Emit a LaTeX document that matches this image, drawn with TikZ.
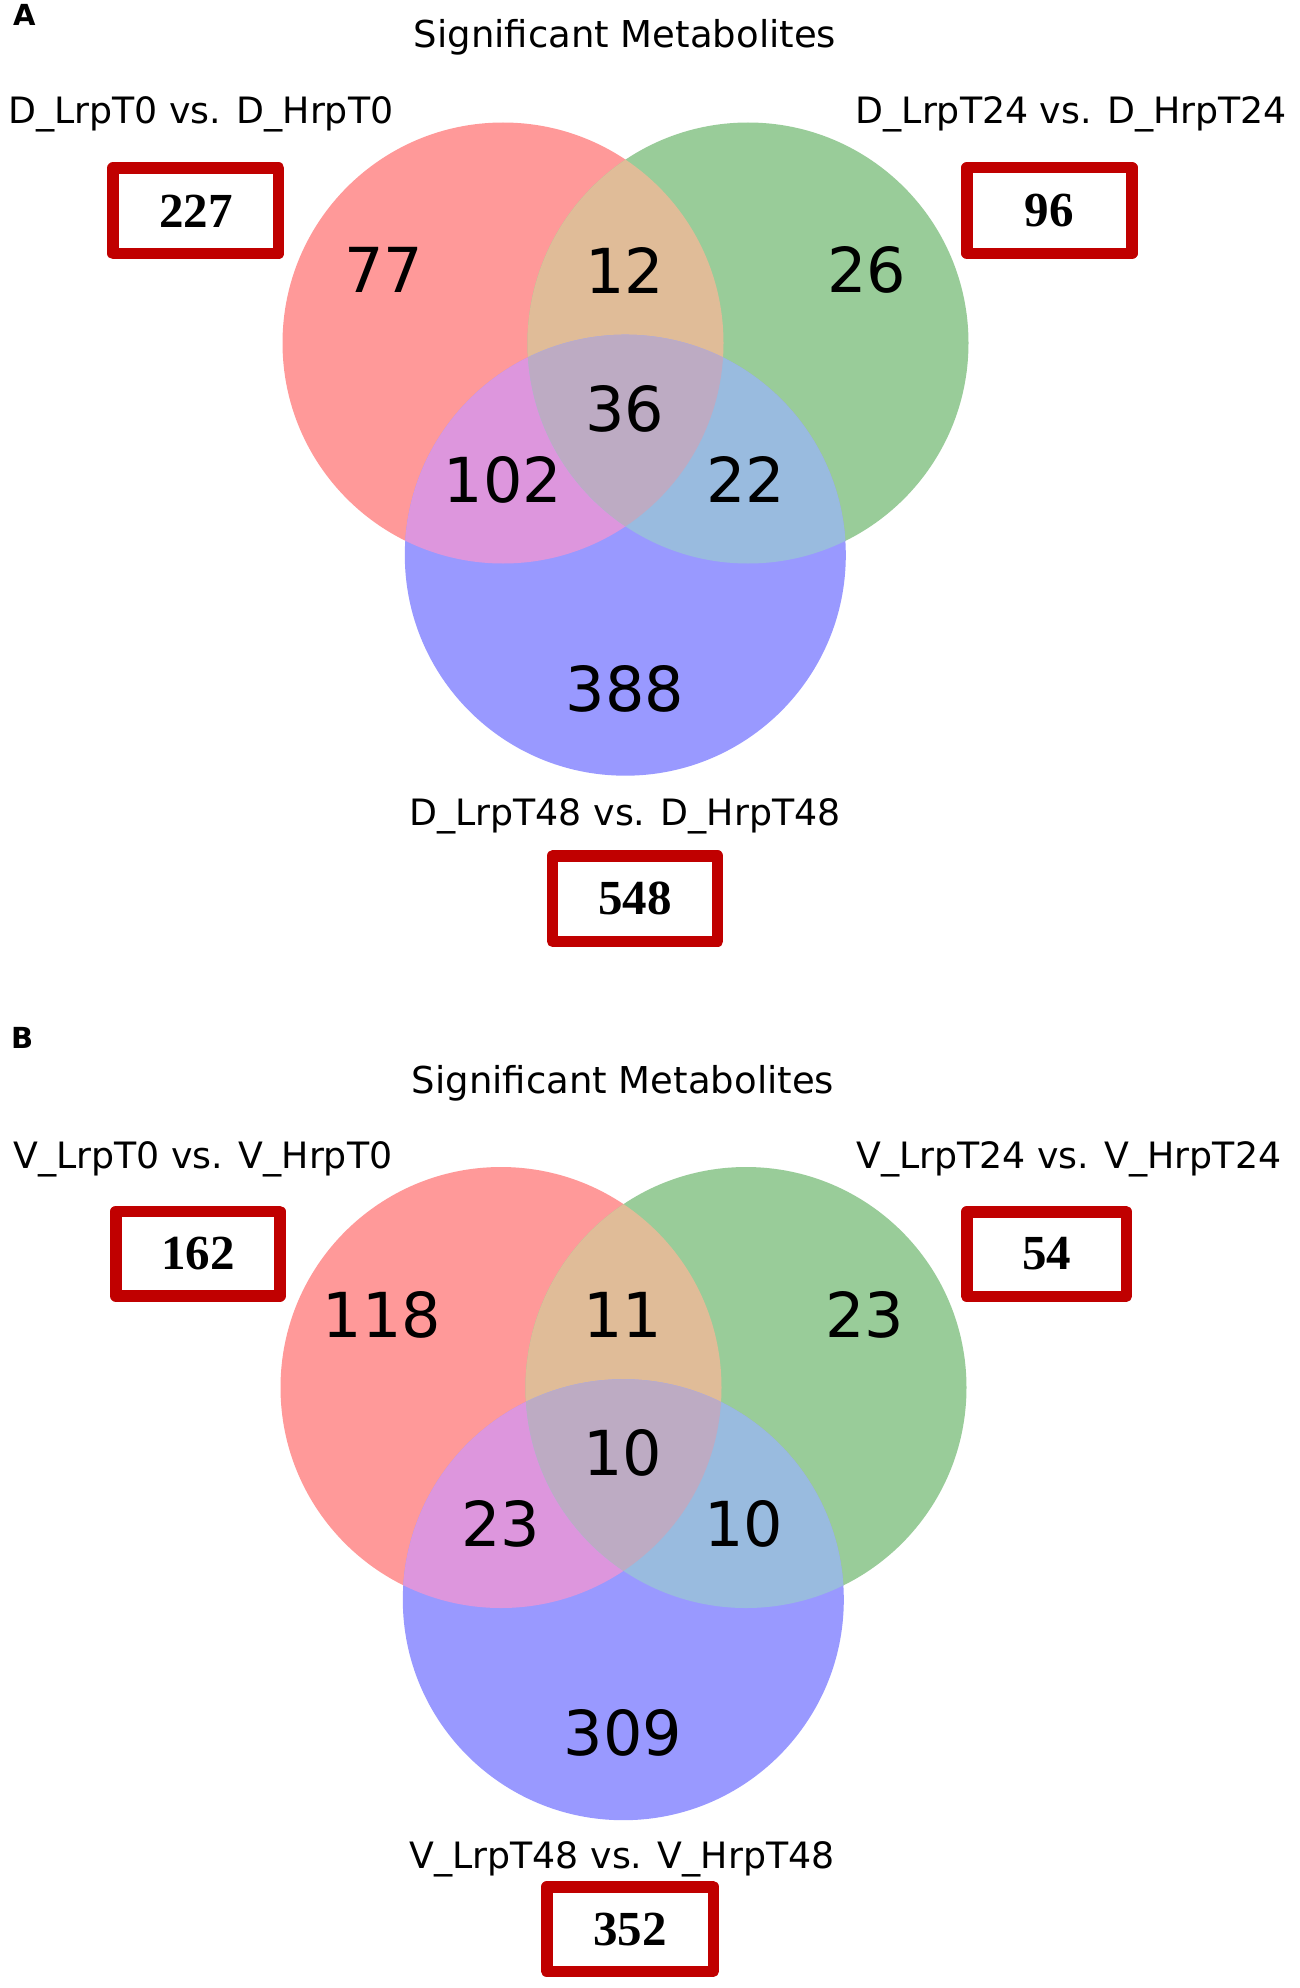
\documentclass[tikz,border=0pt]{standalone}
\usepackage{fontspec}
\setmainfont{DejaVu Sans}
\newfontfamily\boxfont{Liberation Serif}
\definecolor{cR}{HTML}{FF9999}
\definecolor{cG}{HTML}{99CC99}
\definecolor{cB}{HTML}{9999FF}
\definecolor{cRG}{HTML}{E0BC98}
\definecolor{cRB}{HTML}{DD96DD}
\definecolor{cGB}{HTML}{99BBDF}
\definecolor{cRGB}{HTML}{BDABC3}
\definecolor{boxred}{HTML}{C00000}
\tikzset{
  lbl/.style={font=\fontsize{36.3}{44}\selectfont, inner sep=0pt},
  ttl/.style={font=\fontsize{37}{44}\selectfont, inner sep=0pt},
  num/.style={font=\fontsize{62}{74}\selectfont, inner sep=0pt},
  cnt/.style={draw=boxred, line width=11.5pt, line join=round, fill=white, inner sep=0pt,
    font=\boxfont\bfseries\fontsize{49}{58}\selectfont},
  panel/.style={font=\bfseries\fontsize{29}{34}\selectfont, inner sep=0pt}
}
\newcommand{\vennthree}[3]{%
  \fill[cR] (#1) circle (220.5pt);
  \fill[cG] (#2) circle (220.5pt);
  \fill[cB] (#3) circle (220.5pt);
  \begin{scope}\clip (#1) circle (220.5pt); \fill[cRG] (#2) circle (220.5pt); \end{scope}
  \begin{scope}\clip (#1) circle (220.5pt); \fill[cRB] (#3) circle (220.5pt); \end{scope}
  \begin{scope}\clip (#2) circle (220.5pt); \fill[cGB] (#3) circle (220.5pt); \end{scope}
  \begin{scope}\clip (#1) circle (220.5pt); \clip (#2) circle (220.5pt); \fill[cRGB] (#3) circle (220.5pt); \end{scope}
}
\begin{document}
\begin{tikzpicture}[x=1pt,y=-1pt]
\fill[white] (0,0) rectangle (1299,1988);
\useasboundingbox (0,0) rectangle (1299,1988);

% ---------- Panel A ----------
\coordinate (RA) at (503,343);
\coordinate (GA) at (748,343);
\coordinate (BA) at (625.3,555.2);
\vennthree{RA}{GA}{BA}

\node[panel, anchor=base west] (letA) at (13,26) {A};
\node[ttl, anchor=base] (titA) at (625,48) {Significant Metabolites};
\node[lbl, anchor=base east] (labA1) at (393.5,124) {D\_LrpT0 vs. D\_HrpT0};
\node[lbl, anchor=base west] (labA2) at (855.5,124) {D\_LrpT24 vs. D\_HrpT24};
\node[lbl, anchor=base] (labA3) at (625,825) {D\_LrpT48 vs. D\_HrpT48};

\node[num] (a100) at (384,270) {77};
\node[num] (a110) at (624.5,270) {12};
\node[num] (a010) at (867,270) {26};
\node[num] (a111) at (625,408.5) {36};
\node[num] (a101) at (503,479.5) {102};
\node[num] (a011) at (746,479.5) {22};
\node[num] (a001) at (625,688.5) {388};

\node[cnt, minimum width=165.5pt, minimum height=85.5pt] (boxA1) at (195.8,210.8) {227};
\node[cnt, minimum width=165pt, minimum height=85.5pt] (boxA2) at (1049.45,210.5) {96};
\node[cnt, minimum width=165pt, minimum height=85.5pt] (boxA3) at (635.05,898.65) {548};

% ---------- Panel B ----------
\coordinate (RB) at (501,1387.5);
\coordinate (GB) at (746,1387.5);
\coordinate (BB) at (623.3,1599.7);
\vennthree{RB}{GB}{BB}

\node[panel, anchor=base west] (letB) at (11,1048) {B};
\node[ttl, anchor=base] (titB) at (623,1093) {Significant Metabolites};
\node[lbl, anchor=base east] (labB1) at (392.5,1168) {V\_LrpT0 vs. V\_HrpT0};
\node[lbl, anchor=base west] (labB2) at (856,1168) {V\_LrpT24 vs. V\_HrpT24};
\node[lbl, anchor=base] (labB3) at (622,1868.5) {V\_LrpT48 vs. V\_HrpT48};

\node[num] (b100) at (382,1314.5) {118};
\node[num] (b110) at (622.5,1314.5) {11};
\node[num] (b010) at (865,1314.5) {23};
\node[num] (b111) at (623,1453) {10};
\node[num] (b101) at (501,1524) {23};
\node[num] (b011) at (744,1524) {10};
\node[num] (b001) at (623,1733) {309};

\node[cnt, minimum width=164pt, minimum height=84.5pt] (boxB1) at (197.75,1253.7) {162};
\node[cnt, minimum width=159.5pt, minimum height=84.5pt] (boxB2) at (1046.5,1254) {54};
\node[cnt, minimum width=166.5pt, minimum height=84.5pt] (boxB3) at (630,1929) {352};
\end{tikzpicture}
\end{document}
